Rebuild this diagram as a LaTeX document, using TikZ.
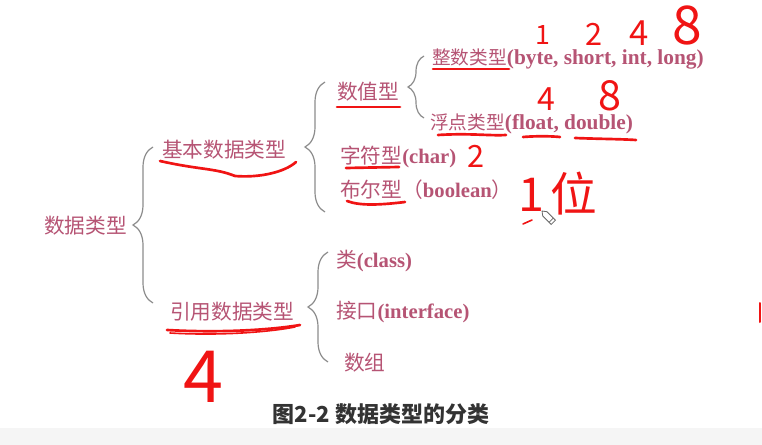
\documentclass[tikz,border=0pt]{standalone}
\usepackage{fontspec}
\setmainfont{Liberation Serif}
\newfontfamily\cjk{Noto Sans CJK SC}
\usetikzlibrary{decorations.pathreplacing}
\definecolor{txt}{RGB}{182,84,116}
\definecolor{brc}{RGB}{140,140,140}
\definecolor{pen}{RGB}{240,20,20}
\definecolor{cap}{RGB}{51,51,51}
\newcommand{\lat}[1]{{\fontsize{16}{18}\selectfont\bfseries #1}}
\tikzset{
  lbl/.style={anchor=west,inner sep=0pt,text=txt,font=\fontsize{15.5}{18}\selectfont},
  lbls/.style={anchor=west,inner sep=0pt,text=txt,font=\fontsize{14}{16}\selectfont},
  bracestyle/.style={draw=brc,line width=0.9pt,decorate,decoration={brace,amplitude=#1}},
  hand/.style={anchor=base,inner sep=0pt,text depth=0pt,text=pen,font=\cjk\fontsize{#1}{#1}\selectfont},
  redline/.style={draw=pen,line width=2pt,line cap=round,line join=round},
}
\begin{document}
\begin{tikzpicture}[x=0.75pt,y=-0.75pt]
\useasboundingbox (0,0) rectangle (762,445);
\fill[white] (0,0) rectangle (762,445);
\fill[black!4] (0,428) rectangle (762,445);

% labels
\node[lbl] (dt) at (44,226) {\cjk 数据类型};
\node[lbl] (basic) at (162,150) {\cjk 基本数据类型};
\node[lbl] (ref) at (170,312) {\cjk 引用数据类型};
\node[lbl] (num) at (337,92) {\cjk 数值型};
\node[lbl] (chr) at (340,157) {{\cjk 字符型}\textbf{(char)}};
\node[lbl] (bool) at (340,190) {{\cjk 布尔型（}\textbf{boolean}{\cjk ）}};
\node[lbls] (int) at (432,59) {{\cjk 整数类型}\lat{(byte, short, int, long)}};
\node[lbls] (flt) at (430,124) {{\cjk 浮点类型}\lat{(float, double)}};
\node[lbl] (cls) at (336,261) {{\cjk 类}\textbf{(class)}};
\node[lbl] (ifc) at (336,312) {{\cjk 接口}\textbf{(interface)}};
\node[lbl] (arr) at (344,363) {\cjk 数组};
\node[inner sep=0pt,text=cap,font=\cjk\bfseries\fontsize{16.5}{19}\selectfont] (caption) at (381,414) {图2-2 数据类型的分类};

% braces
\coordinate (b1a) at (153,303); \coordinate (b1b) at (153,147);
\coordinate (b2a) at (325,212); \coordinate (b2b) at (325,82);
\coordinate (b3a) at (424,118); \coordinate (b3b) at (424,56);
\coordinate (b4a) at (328,362); \coordinate (b4b) at (328,252);
\draw[bracestyle=15pt] (b1a) -- (b1b);
\draw[bracestyle=15pt] (b2a) -- (b2b);
\draw[bracestyle=12pt] (b3a) -- (b3b);
\draw[bracestyle=15pt] (b4a) -- (b4b);

% red hand underlines
\draw[redline] (160,161) .. controls (200,170) and (215,168) .. (235,176) .. controls (260,178) and (285,172) .. (296,162);
\draw[redline] (167,330) .. controls (220,333) and (270,330) .. (300,325);
\draw[redline,line width=1.2pt] (170,333) .. controls (220,336) and (270,332) .. (295,327);
\draw[redline] (337,107) -- (400,107);
\draw[redline] (346,168) -- (399,167);
\draw[redline] (347,201) .. controls (360,206) and (380,205) .. (405,202);
\draw[redline] (433,69) -- (509,69);
\draw[redline] (438,135) .. controls (470,133) and (490,136) .. (506,135);
\draw[redline] (523,137) .. controls (535,136) and (550,136) .. (560,137);
\draw[redline] (575,138) .. controls (600,139) and (620,139) .. (636,140);
\draw[redline,line width=1.2pt] (523,224) -- (532,220);
\draw[redline,line width=1.5pt] (760,303) -- (760,322);

% red handwritten numbers
\node[hand=20] (n1) at (543,45) {1};
\node[hand=23] (n2) at (594,46) {2};
\node[hand=26] (n4) at (639,46) {4};
\node[hand=40] (n8) at (687,45) {8};
\node[hand=24] (f4) at (546,111) {4};
\node[hand=31] (f8) at (610,111) {8};
\node[hand=23] (c2) at (476,167) {2};
\node[hand=35,anchor=base west] (b1) at (518,211) {1\hspace{5pt}位};
\node[hand=54] (r4) at (203,402) {4};

% pencil cursor
\begin{scope}[shift={(542,211)},rotate=-45]
\draw[black!60,fill=white,line width=0.6pt] (0,0) -- (4,-3) -- (16,-3) -- (16,3) -- (4,3) -- cycle;
\draw[black!60,line width=0.6pt] (13,-3) -- (13,3);
\end{scope}
\end{tikzpicture}
\end{document}
